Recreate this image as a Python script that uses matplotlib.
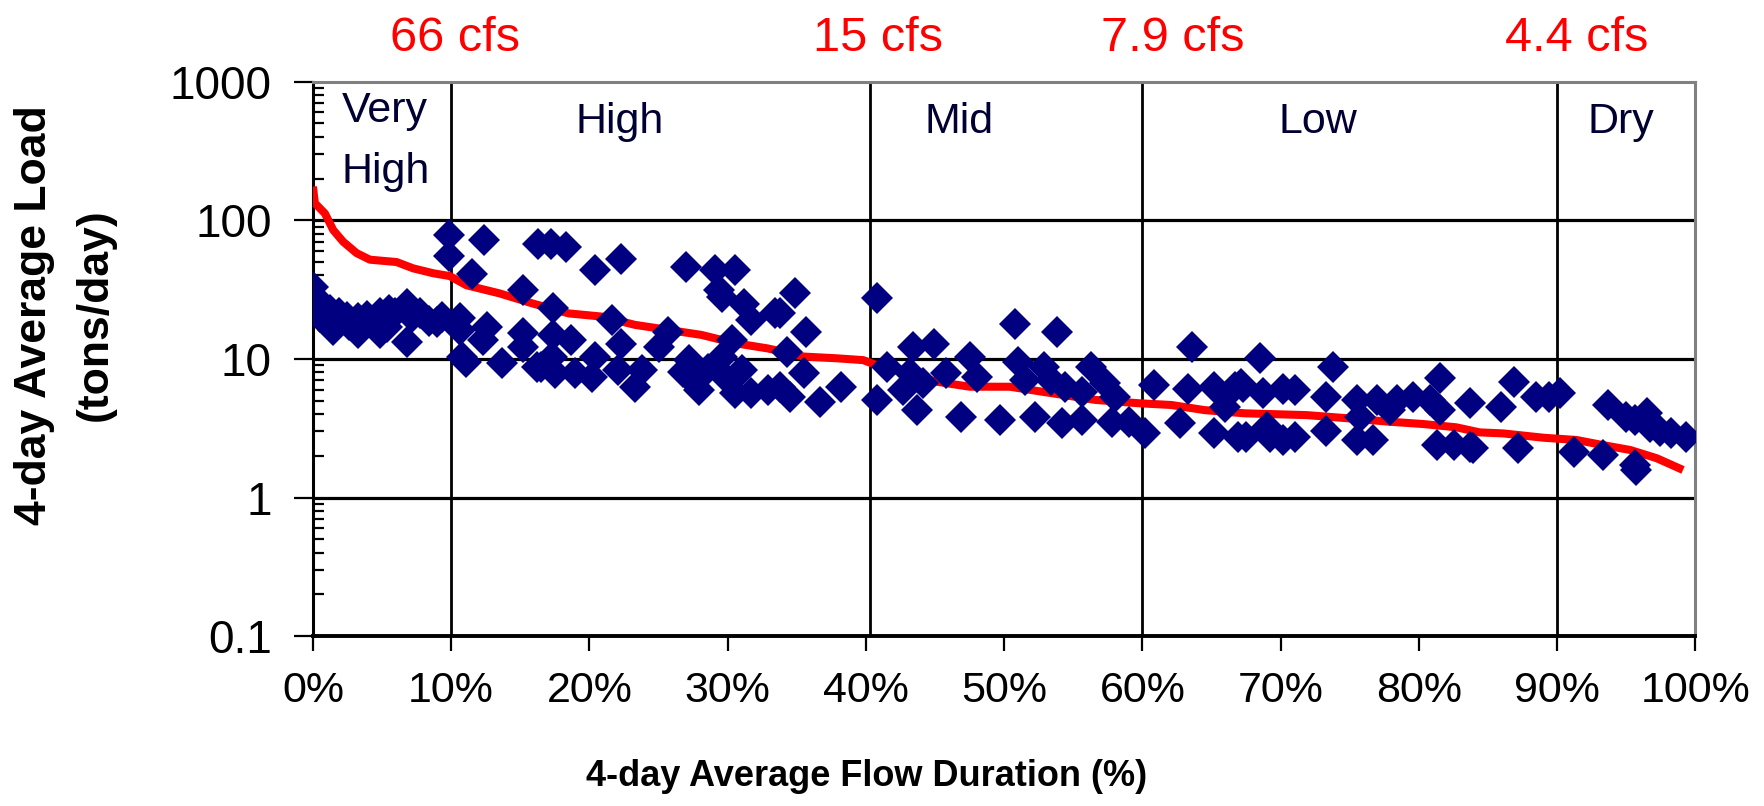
import matplotlib.pyplot as plt
from matplotlib.ticker import FixedLocator, FixedFormatter, LogLocator, NullFormatter
from matplotlib.transforms import blended_transform_factory

plt.rcParams['font.family'] = ['Liberation Sans', 'DejaVu Sans']

# load duration curve (allowable load at each flow duration)
ldc_pct = [0, 0.14, 0.87, 1.47, 2.19, 3.16, 4.12, 6.05, 7.26, 8.70, 9.9, 11.1, 13.5,
           15.9, 18.5, 20.9, 23.3, 25.7, 28.1, 30.5, 32.9, 35.5, 37.9, 39.8, 40.8,
           45.1, 47.5, 50.4, 56.6, 59.7, 62.1, 64.5, 67.4, 71.9, 75.0, 77.9, 80.3,
           82.7, 84.4, 86.1, 89.0, 91.4, 93.3, 95.3, 97.2, 99.1]
ldc_load = [175, 133, 112, 85, 70, 58, 52, 50, 45, 41.5, 39.6, 34, 29.7,
            25.1, 21.3, 20.2, 17.6, 16.2, 14.9, 13.0, 11.9, 10.4, 10.1, 9.8, 9.0,
            6.85, 6.3, 6.3, 5.06, 4.79, 4.65, 4.27, 4.05, 3.93, 3.72, 3.52, 3.39,
            3.21, 2.95, 2.90, 2.70, 2.60, 2.39, 2.20, 1.92, 1.58]

# observed 4-day average loads
obs_pct = [9.86, 9.86, 12.37, 11.48, 15.17,
           0.02, 0.27, 1.23, 1.47, 2.44, 3.28, 3.28, 4.85, 4.85, 5.93, 6.78, 6.78,
           7.74, 8.95, 5.33, 0.5, 10.63, 10.63, 10.75, 11.1, 12.56, 12.32, 13.65,
           15.2, 15.2, 16.2, 1.9, 3.9, 5.5, 7.2, 9.3, 8.4, 2.6, 0.8,
           16.3, 17.2, 18.3, 20.4, 22.3, 27.0, 29.1, 30.5, 29.4, 29.6, 31.2, 31.7,
           33.4, 17.4, 21.6, 25.7, 17.4, 18.7, 22.3, 25.0, 30.3,
           16.5, 17.3, 17.5, 18.95, 20.4, 20.2, 22.1, 23.3, 23.8, 27.2, 27.4, 27.9,
           29.6, 29.8, 31.0, 30.5, 31.7, 32.9, 28.6, 26.8,
           34.9, 33.8, 35.7, 34.3, 40.8, 33.8, 34.5, 35.5, 36.7, 38.2, 40.8, 41.5,
           43.4, 44.9, 43.2, 42.7, 43.7, 44.1, 45.8, 47.5, 48.0, 46.9, 49.7, 50.8,
           53.8, 51.0, 51.5, 52.9, 53.4, 54.4, 52.2, 54.2, 55.6, 56.3, 55.6, 57.3,
           58.0, 57.8, 59.0, 60.2, 60.8, 63.6, 63.3, 62.7, 65.2, 66.7, 66.0, 65.2,
           66.9,
           68.5, 73.8, 67.3, 68.7, 70.2, 67.5, 69.2, 70.2, 69.0, 73.3, 73.3, 75.5,
           75.7, 75.5, 76.7, 77.0, 78.4, 79.6, 80.8, 81.5, 81.5, 81.3, 82.5, 83.7,
           83.7, 77.9, 67.1, 71.0, 71.0,
           86.9, 85.9, 88.5, 89.4, 90.2, 93.7, 95.0, 96.5, 96.7, 98.2, 99.3, 83.9,
           87.2, 91.2, 93.3, 95.6, 95.7, 95.6, 97.4]
obs_load = [78, 55, 72, 41, 31.4,
            33, 25.9, 22.5, 16.2, 20.1, 19.6, 15.3, 21.3, 15.3, 21.3, 25.1, 13.3,
            21.3, 18.5, 17.1, 20, 19.6, 16.2, 10.4, 9.55, 17.1, 13.7, 9.3,
            15.3, 12.2, 8.8, 21.5, 20.5, 22.5, 20, 20, 18.8, 17.5, 24,
            67, 68, 64, 43.8, 53, 46.3, 43.8, 43.8, 31.4, 28.1, 25.1, 19,
            21.3, 23.2, 19, 15.7, 14.9, 13.7, 12.9, 12.2, 13.7,
            8.8, 10.4, 7.9, 7.9, 10.4, 7.4, 8.3, 6.3, 8.3, 9.8, 7.0, 6.0,
            10.4, 7.4, 8.3, 5.65, 5.65, 6.0, 8.5, 8.0,
            29.7, 21.3, 15.7, 11.3, 27.4, 6.3, 5.3, 7.9, 4.9, 6.3, 5.05, 8.8,
            12.2, 12.9, 7.9, 6.0, 4.27, 6.7, 7.9, 10.4, 7.4, 3.83, 3.62, 18,
            15.7, 9.5, 7.0, 8.8, 7.0, 6.3, 3.83, 3.43, 3.62, 8.8, 5.8, 6.7,
            5.3, 3.52, 3.52, 2.9, 6.5, 12.2, 6.1, 3.43, 6.3, 6.3, 4.5, 2.9,
            2.75,
            10.1, 8.8, 6.3, 5.65, 6.1, 2.75, 2.75, 2.6, 3.24, 5.3, 3.0, 5.05,
            3.83, 2.6, 2.6, 5.05, 5.05, 5.3, 5.05, 7.25, 4.27, 2.39, 2.39, 4.8,
            2.33, 4.27, 6.6, 6.0, 2.75,
            6.85, 4.5, 5.3, 5.3, 5.65, 4.65, 3.83, 4.05, 3.24, 2.9, 2.75, 2.27,
            2.27, 2.14, 2.03, 1.72, 1.58, 3.6, 3.0]

zone_names = ['Very\nHigh', 'High', 'Mid', 'Low', 'Dry']
zone_breaks = [10, 40.3, 60, 90]
flow_labels = ['66 cfs', '15 cfs', '7.9 cfs', '4.4 cfs']
y_ticks = [0.1, 1, 10, 100, 1000]
y_ticklabels = ['0.1', '1', '10', '100', '1000']

fig = plt.figure(figsize=(17.65, 8.06), dpi=100)
ax = fig.add_axes([0.1773, 0.2108, 0.7833, 0.6878])

ax.set_yscale('log')
ax.set_xlim(0, 100)
ax.set_ylim(0.1, 1000)

# flow zone boundaries and decade grid
for b in zone_breaks:
    ax.axvline(b, color='black', lw=2.0, zorder=1)
for v in [1, 10, 100]:
    ax.axhline(v, color='black', lw=2.3, zorder=1)

ax.plot(ldc_pct, ldc_load, color='red', lw=5.8, zorder=3, solid_capstyle='butt')
ax.plot(obs_pct, obs_load, 'D', color='#000080', ms=16, mew=0, zorder=4)

# axes styling
for side in ['top', 'right']:
    ax.spines[side].set_color('#808080')
    ax.spines[side].set_linewidth(2.2)
ax.spines['left'].set_linewidth(2.2)
ax.spines['bottom'].set_linewidth(2.8)

ax.yaxis.set_major_locator(FixedLocator(y_ticks))
ax.yaxis.set_major_formatter(FixedFormatter(y_ticklabels))
ax.yaxis.set_minor_locator(LogLocator(base=10, subs=range(2, 10)))
ax.yaxis.set_minor_formatter(NullFormatter())
ax.set_xticks(range(0, 101, 10))
ax.set_xticklabels([f'{p}%' for p in range(0, 101, 10)])

ax.tick_params(axis='y', which='major', direction='out', length=13.7, width=1.6,
               pad=16, labelsize=33)
ax.tick_params(axis='y', which='minor', direction='in', length=8, width=1.6)
ax.tick_params(axis='x', which='major', direction='out', length=11, width=1.6,
               pad=14, labelsize=31)

# zone names inside the plot
zone_x = [2.08, 22.2, 46.7, 72.7, 94.6]
zone_top = [861, 713, 713, 713, 713]
for name, x, top in zip(zone_names, zone_x, zone_top):
    ha = 'left' if '\n' in name else 'center'
    ax.text(x, top, name, ha=ha, va='top', fontsize=31, linespacing=1.68,
            color='#000033', zorder=5)

# flow values at the zone breaks, above the plot
flow_x = [10.3, 40.9, 62.2, 91.4]
trans = blended_transform_factory(ax.transData, fig.transFigure)
for lab, x in zip(flow_labels, flow_x):
    ax.text(x, 0.937, lab, transform=trans, ha='center', va='baseline',
            fontsize=35, color='red')

fig.text(867 / 1765, 1 - 777 / 806, '4-day Average Flow Duration (%)',
         ha='center', va='center', fontsize=26, fontweight='bold')
fig.text(65 / 1765, 1 - 315 / 806, '4-day Average Load\n(tons/day)',
         ha='center', va='center', rotation=90, fontsize=32, fontweight='bold',
         linespacing=1.6)

fig.savefig('out.png', dpi=100)
